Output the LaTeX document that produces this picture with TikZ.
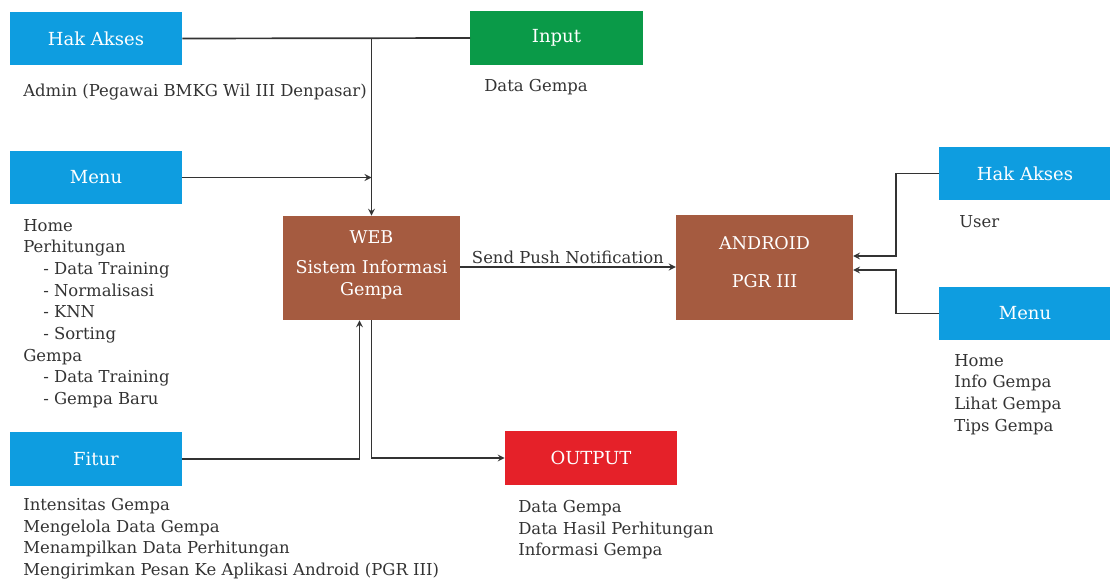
\documentclass[tikz,border=0pt]{standalone}
\usepackage{fontspec}
\setmainfont{DejaVu Serif}
\usepackage{tikz}
\usetikzlibrary{arrows,positioning}
\definecolor{aksesblue}{HTML}{0E9DE0}
\definecolor{inputgreen}{HTML}{0A9A48}
\definecolor{webbrown}{HTML}{A55B40}
\definecolor{outred}{HTML}{E52129}
\definecolor{linegray}{HTML}{333333}

\begin{document}
\begin{tikzpicture}[
x=0.025cm, y=-0.025cm,
font=\fontsize{11.7}{15.4}\selectfont,
bluebox/.style={fill=aksesblue,text=white,minimum width=4.3cm,minimum height=1.33cm,inner sep=0pt,font=\fontsize{12.8}{15.4}\selectfont},
greenbox/.style={bluebox,fill=inputgreen},
redbox/.style={bluebox,fill=outred},
brownbox/.style={fill=webbrown,minimum width=4.42cm,minimum height=2.6cm,inner sep=0pt},
boxtext/.style={text=white,align=center,inner sep=0pt,font=\fontsize{12.5}{16}\selectfont},
listtext/.style={anchor=north west,inner sep=0pt,align=left,text=linegray},
conn/.style={line width=1.2pt,draw=linegray},
arr/.style={conn,->,>=stealth}
]
    % Frame
    \useasboundingbox (0,0) rectangle (1110,578);

    % Left side boxes
    \node[bluebox] (aksesA) at (96,38.5) {Hak Akses};
    \node[greenbox] (input) at (556.5,38) {Input};
    \node[bluebox] (menuA) at (96,177.5) {Menu};
    \node[bluebox] (fitur) at (96,459) {Fitur};
    \node[redbox] (output) at (591,458) {OUTPUT};

    % Systems
    \node[brownbox,label={[boxtext,yshift=2pt]center:WEB\\[5pt]Sistem Informasi\\Gempa}] (web) at (371.5,268) {};
    \node[brownbox,label={[boxtext,yshift=4pt]center:ANDROID\\[11pt]PGR III}] (android) at (764.5,267.5) {};

    % Right side boxes
    \node[bluebox] (aksesB) at (1025,173.5) {Hak Akses};
    \node[bluebox] (menuB) at (1025,313.5) {Menu};

    % Texts under the boxes
    \node[listtext] (admin) at (23,84) {Admin (Pegawai BMKG Wil III Denpasar)};
    \node[listtext] (datain) at (484,79) {Data Gempa};
    \node[listtext] (menulist) at (23,219) {Home\\Perhitungan\\
      \hspace*{0.5cm}- Data Training\\\hspace*{0.5cm}- Normalisasi\\
      \hspace*{0.5cm}- KNN\\\hspace*{0.5cm}- Sorting\\Gempa\\
      \hspace*{0.5cm}- Data Training\\\hspace*{0.5cm}- Gempa Baru};
    \node[listtext] (fiturlist) at (23,498) {Intensitas Gempa\\Mengelola Data Gempa\\
      Menampilkan Data Perhitungan\\Mengirimkan Pesan Ke Aplikasi Android (PGR III)};
    \node[listtext] (outlist) at (518,500) {Data Gempa\\Data Hasil Perhitungan\\Informasi Gempa};
    \node[listtext] (user) at (959,215) {User};
    \node[listtext] (menuBlist) at (954,354) {Home\\Info Gempa\\Lihat Gempa\\Tips Gempa};

    % Connectors
    \draw[conn] (aksesA.east) -- (input.west);
    \coordinate (top) at (aksesA.east -| web.north);
    \draw[arr] (top) -- (web.north);
    \draw[arr] (menuA.east) -- (menuA.east -| web.north);
    \draw[arr] (fitur.east) -| ([xshift=-0.3cm]web.south);
    \draw[arr] (web.south) |- (output.west);
    \coordinate (push) at (460,267);
    \draw[arr] (push) -- node[above,text=linegray,inner sep=2pt] {Send Push Notification} (push -| android.west);

    \draw[arr] (aksesB.west) -- ++(-43,0) |- (853,256);
    \draw[arr] (menuB.west) -- ++(-43,0) |- (853,270);
\end{tikzpicture}
\end{document}
